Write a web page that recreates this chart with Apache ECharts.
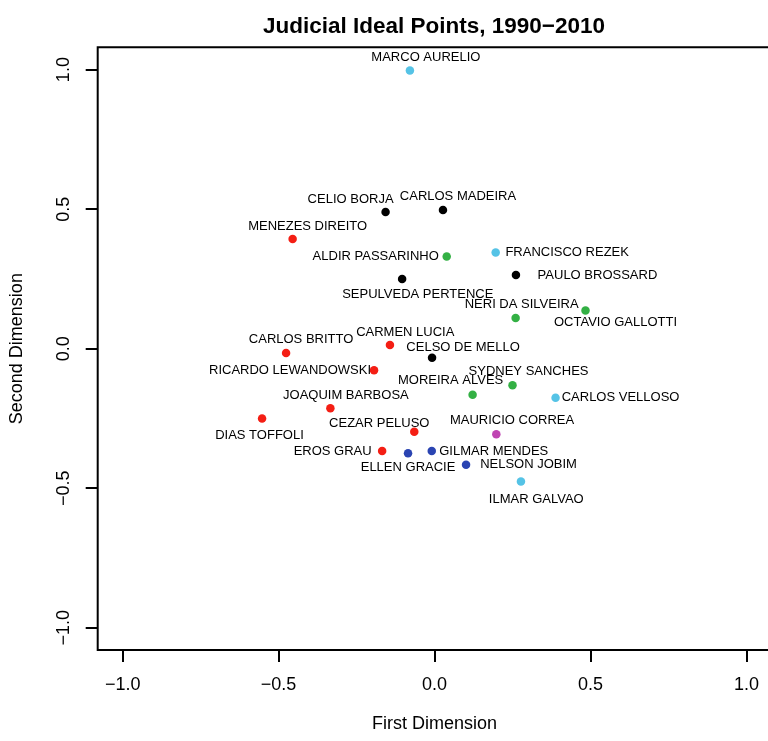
<!DOCTYPE html>
<html>
<head>
<meta charset="utf-8">
<script src="https://cdn.jsdelivr.net/npm/echarts@6/dist/echarts.min.js"></script>
<style>
html,body{margin:0;padding:0;background:#fff;}
#chart{width:768px;height:741px;}
</style>
</head>
<body>
<div id="chart"></div>
<script>
// ---- data ----
const judges = ["MARCO AURELIO","CELIO BORJA","CARLOS MADEIRA","MENEZES DIREITO","ALDIR PASSARINHO",
  "FRANCISCO REZEK","PAULO BROSSARD","SEPULVEDA PERTENCE","NERI DA SILVEIRA","OCTAVIO GALLOTTI",
  "CARMEN LUCIA","CARLOS BRITTO","CELSO DE MELLO","RICARDO LEWANDOWSKI","SYDNEY SANCHES",
  "MOREIRA ALVES","CARLOS VELLOSO","JOAQUIM BARBOSA","DIAS TOFFOLI","CEZAR PELUSO",
  "MAURICIO CORREA","EROS GRAU","ELLEN GRACIE","GILMAR MENDES","NELSON JOBIM","ILMAR GALVAO"];
const firstDim = [-0.079,-0.157,0.027,-0.455,0.039,
  0.196,0.261,-0.104,0.260,0.484,
  -0.143,-0.476,-0.008,-0.194,0.250,
  0.122,0.388,-0.334,-0.553,-0.065,
  0.198,-0.168,-0.085,-0.009,0.101,0.277];
const secondDim = [0.997,0.490,0.497,0.393,0.330,
  0.345,0.264,0.250,0.110,0.137,
  0.013,-0.016,-0.033,-0.077,-0.131,
  -0.165,-0.176,-0.214,-0.250,-0.298,
  -0.307,-0.367,-0.375,-0.367,-0.416,-0.476];
const appointer = ["Collor","Sarney","Sarney","Lula","Military",
  "Collor","Sarney","Sarney","Military","Military",
  "Lula","Lula","Sarney","Lula","Military",
  "Military","Collor","Lula","Lula","Lula",
  "Franco","Lula","Cardoso","Cardoso","Cardoso","Collor"];
const axisTicks = [-1.0,-0.5,0.0,0.5,1.0];

// ---- styling ----
const groupColor = {Military:"#33b044",Sarney:"#000000",Collor:"#55c3e6",Franco:"#bf45b2",Cardoso:"#2a44b2",Lula:"#f41e14"};
const labelOffset = {
  "MARCO AURELIO":[16,-13],"CELIO BORJA":[-35,-13],"CARLOS MADEIRA":[15,-14],"MENEZES DIREITO":[15,-13],
  "ALDIR PASSARINHO":[-71,0],"FRANCISCO REZEK":[71.5,0],"PAULO BROSSARD":[81.5,0],
  "SEPULVEDA PERTENCE":[15.7,15.3],"NERI DA SILVEIRA":[6,-14],"OCTAVIO GALLOTTI":[30,12],
  "CARMEN LUCIA":[15.3,-13],"CARLOS BRITTO":[15,-13.3],"CELSO DE MELLO":[31,-10.4],
  "RICARDO LEWANDOWSKI":[-84,0.7],"SYDNEY SANCHES":[16,-13.7],"MOREIRA ALVES":[-22,-14],
  "CARLOS VELLOSO":[65,0],"JOAQUIM BARBOSA":[15.5,-12.6],"DIAS TOFFOLI":[-2.6,17.4],
  "CEZAR PELUSO":[-35,-8.7],"MAURICIO CORREA":[15.7,-13.6],"EROS GRAU":[-49.5,0.7],
  "ELLEN GRACIE":[0,13.7],"GILMAR MENDES":[62,0.7],"NELSON JOBIM":[62.5,0],"ILMAR GALVAO":[15.3,17.7]
};
const FONT = "'Liberation Sans', Arial, Helvetica, sans-serif";
const fmt = v => (v < 0 ? "\u2212" : "") + Math.abs(v).toFixed(1);

const points = judges.map((n, i) => ({
  name: n,
  value: [firstDim[i], secondDim[i]],
  itemStyle: {color: groupColor[appointer[i]], opacity: 1}
}));

const chart = echarts.init(document.getElementById('chart'), null, {renderer: 'canvas'});
chart.setOption({
  animation: false,
  backgroundColor: '#ffffff',
  title: {
    text: 'Judicial Ideal Points, 1990\u22122010',
    left: 429, top: 10, textAlign: 'center',
    textStyle: {fontFamily: FONT, fontSize: 22.5, fontWeight: 'bold', color: '#000'}
  },
  grid: {left: 97.7, top: 47.3, width: 673.7, height: 602.7, show: true,
    borderColor: '#000', borderWidth: 2, backgroundColor: 'transparent',
    containLabel: false, outerBoundsMode: 'none'},
  xAxis: {
    type: 'value', min: -1.08, max: 1.08,
    name: 'First Dimension', nameLocation: 'middle', nameGap: 65,
    nameTextStyle: {fontFamily: FONT, fontSize: 18, color: '#000'},
    axisLine: {show: false, onZero: false},
    splitLine: {show: false},
    axisTick: {show: true, inside: false, length: 12, customValues: axisTicks, lineStyle: {color: '#000', width: 2}},
    axisLabel: {show: true, customValues: axisTicks, formatter: fmt, margin: 26,
      fontFamily: FONT, fontSize: 18, color: '#000'}
  },
  yAxis: {
    type: 'value', min: -1.08, max: 1.08,
    name: 'Second Dimension', nameLocation: 'middle', nameGap: 71.5, nameRotate: 90,
    nameTextStyle: {fontFamily: FONT, fontSize: 18, color: '#000'},
    axisLine: {show: false, onZero: false},
    splitLine: {show: false},
    axisTick: {show: true, inside: false, length: 12, customValues: axisTicks, lineStyle: {color: '#000', width: 2}},
    axisLabel: {show: true, customValues: axisTicks, formatter: fmt, rotate: 90, margin: 34,
      fontFamily: FONT, fontSize: 18, color: '#000', align: 'center', verticalAlign: 'middle'}
  },
  series: [{
    type: 'scatter',
    symbol: 'circle',
    symbolSize: 8.5,
    data: points,
    label: {
      show: true, position: 'inside', formatter: p => p.name,
      fontFamily: FONT, fontSize: 13, color: '#000',
      align: 'center', verticalAlign: 'middle'
    },
    labelLayout: p => {
      const o = labelOffset[judges[p.dataIndex]] || [0, -13];
      return {dx: o[0], dy: o[1], hideOverlap: false};
    },
    emphasis: {disabled: true}
  }]
});
</script>
</body>
</html>
